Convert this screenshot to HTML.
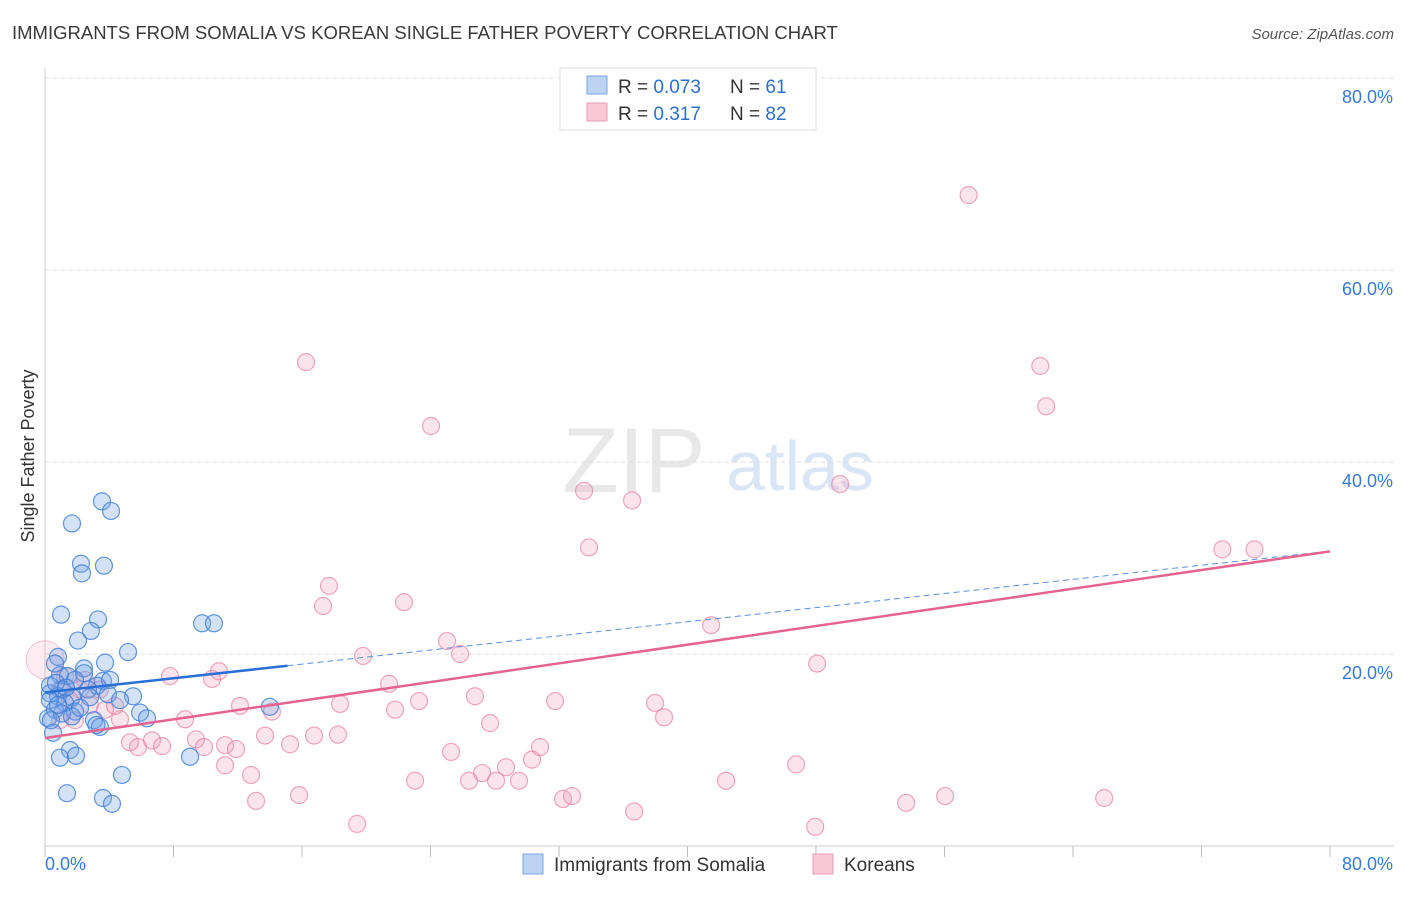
<!DOCTYPE html>
<html><head><meta charset="utf-8"><style>
body{margin:0;background:#fff;font-family:"Liberation Sans",sans-serif;}
svg text{font-family:"Liberation Sans",sans-serif;}
</style></head><body>
<svg id="c" width="1406" height="892">
<text x="12" y="39" font-size="18.5" fill="#3a3a3a">IMMIGRANTS FROM SOMALIA VS KOREAN SINGLE FATHER POVERTY CORRELATION CHART</text>
<text x="1394" y="39" font-size="15" fill="#555" font-style="italic" text-anchor="end">Source: ZipAtlas.com</text>
<text x="634" y="492" font-size="92" fill="#e8e8e8" font-family="Liberation Serif" text-anchor="middle">ZIP</text>
<text x="800" y="490" font-size="70" fill="#dae6f6" text-anchor="middle">atlas</text>
<text transform="translate(34,456) rotate(-90)" font-size="18" fill="#333" text-anchor="middle">Single Father Poverty</text>
<g id="grid"></g><g id="pts"></g><g id="trend"></g>
<g>
<rect x="560" y="68" width="256" height="62" fill="#fff" stroke="#ddd"/>
<rect x="587" y="76" width="20" height="18" fill="#bcd3f3" stroke="#7aa5e0"/>
<rect x="587" y="103" width="20" height="18" fill="#f8c8d6" stroke="#eb9ab3"/>
<text x="618" y="93" font-size="19" fill="#333">R = <tspan fill="#2f6fd0">0.073</tspan></text>
<text x="730" y="93" font-size="19" fill="#333">N = <tspan fill="#2f6fd0">61</tspan></text>
<text x="618" y="120" font-size="19" fill="#333">R = <tspan fill="#2f6fd0"> 0.317</tspan></text>
<text x="730" y="120" font-size="19" fill="#333">N = <tspan fill="#2f6fd0">82</tspan></text>
</g>
<g>
<rect x="523" y="854" width="20" height="20" fill="#bcd3f3" stroke="#7aa5e0"/>
<text x="554" y="871" font-size="19" fill="#333">Immigrants from Somalia</text>
<rect x="813" y="854" width="20" height="20" fill="#f8c8d6" stroke="#eb9ab3"/>
<text x="844" y="871" font-size="19" fill="#333">Koreans</text>
</g>
</svg>
<script>
const yTicks=[20,40,60,80];
const yTickLabels=["20.0%","40.0%","60.0%","80.0%"];
const xTicks=[0,8,16,24,32,40,48,56,64,72,80];
const somaliaX=[3.55,4.11,1.68,2.24,2.30,3.67,1.0,3.3,2.86,2.05,9.78,10.52,5.17,0.81,3.74,2.43,0.93,1.43,2.43,3.61,4.05,3.24,2.68,1.06,0.31,0.81,1.68,3.92,5.48,0.31,1.25,0.62,1.87,0.19,1.06,5.92,6.35,1.68,3.05,3.42,0.5,14.0,1.56,0.93,1.93,9.03,4.79,1.37,3.61,4.17,0.31,0.68,0.37,1.87,1.31,2.8,0.62,0.81,2.18,3.2,4.67];
const somaliaY=[35.9,34.9,33.6,29.4,28.4,29.2,24.1,23.6,22.4,21.4,23.2,23.2,20.2,19.7,19.1,18.5,17.8,17.7,18.0,17.2,17.3,16.7,16.3,16.3,15.9,15.6,15.5,15.8,15.6,15.2,14.9,14.2,14.0,13.3,13.8,13.9,13.3,13.5,13.1,12.4,11.8,14.5,10.0,9.2,9.4,9.3,7.4,5.5,5.0,4.4,16.7,17.0,13.1,17.3,16.5,15.5,19.0,14.7,14.4,12.6,15.2];
const koreanX=[57.5,16.25,61.96,62.33,24.03,49.5,33.56,36.55,33.87,73.3,75.3,17.68,17.31,22.35,41.47,25.03,25.84,19.8,10.83,7.78,10.4,48.07,21.42,26.77,31.76,37.98,18.37,23.29,12.14,21.79,38.54,8.72,14.13,27.71,4.67,11.21,13.7,15.26,16.75,18.24,5.29,6.66,7.29,9.4,9.9,5.79,11.89,25.28,30.82,11.21,12.83,27.21,28.7,30.32,23.04,26.4,28.08,29.51,42.4,46.76,32.25,32.81,15.82,13.14,36.68,53.61,56.04,65.94,19.43,47.95,0.93,1.56,2.8,3.74,2.18,3.42,0.93,1.87,4.36,1.25,2.49];
const koreanY=[67.8,50.4,50.0,45.8,43.75,37.7,37.0,36.0,31.1,30.9,30.9,27.1,25.0,25.4,23.0,21.35,20.0,19.8,18.2,17.7,17.4,19.0,16.9,15.6,15.1,14.9,14.8,15.1,14.6,14.2,13.4,13.2,14.0,12.8,13.2,10.5,11.5,10.6,11.5,11.6,10.8,11.0,10.4,11.1,10.3,10.3,10.1,9.8,10.3,8.4,7.4,7.6,8.2,9.0,6.8,6.8,6.8,6.8,6.8,8.5,4.9,5.2,5.3,4.7,3.6,4.5,5.2,5.0,2.3,2.0,16.3,15.2,14.7,14.2,16.3,16.3,13.1,13.1,14.6,17.7,17.3];
const koreanBig=[0,19.4];
const somaliaTrend=[16.0,0.184];
const koreanTrend=[11.25,0.243];
const somaliaMaxX=15.1;

const NS="http://www.w3.org/2000/svg";
const sx=v=>45+v*(1285/80);
const sy=v=>846-v*9.6;
function mk(parent,tag,attrs){const e=document.createElementNS(NS,tag);for(const k in attrs)e.setAttribute(k,attrs[k]);document.getElementById(parent).appendChild(e);return e;}

let e=mk('grid','line',{x1:45,y1:846,x2:1394,y2:846,stroke:'#ccc'});


e=mk('grid','line',{x1:45,y1:68,x2:45,y2:846,stroke:'#ccc'});


yTicks.forEach((t,i)=>{
  let g=mk('grid','line',{x1:45,y1:sy(t),x2:1394,y2:sy(t),stroke:'#ddd','stroke-dasharray':'4,4'});
  
  
  let l=mk('grid','text',{x:1393,y:sy(t)+25,'font-size':18,fill:'#3a78d8','text-anchor':'end'});
  l.textContent=yTickLabels[i];
  
  
});
xTicks.forEach(t=>{
  let k=mk('grid','line',{x1:sx(t),y1:846,x2:sx(t),y2:857,stroke:'#bbb'});
  
  
});
e=mk('grid','text',{x:45,y:870,'font-size':18,fill:'#3a78d8'});e.textContent='0.0%';


e=mk('grid','text',{x:1393,y:870,'font-size':18,fill:'#3a78d8','text-anchor':'end'});e.textContent='80.0%';



e=mk('pts','circle',{cx:sx(koreanBig[0]),cy:sy(koreanBig[1]),r:19,fill:'rgba(240,150,180,0.18)',stroke:'rgba(232,130,165,0.45)'});


koreanX.forEach((x,i)=>{
  let c=mk('pts','circle',{cx:sx(x),cy:sy(koreanY[i]),r:8.5,fill:'rgba(240,150,180,0.26)',stroke:'rgba(232,130,165,0.7)','stroke-width':1.2});
  
  
});
somaliaX.forEach((x,i)=>{
  let c=mk('pts','circle',{cx:sx(x),cy:sy(somaliaY[i]),r:8.5,fill:'rgba(110,160,230,0.3)',stroke:'rgba(60,125,215,0.8)','stroke-width':1.2});
  
  
});
const f=(t,x)=>t[0]+t[1]*x;
e=mk('trend','line',{x1:sx(somaliaMaxX),y1:sy(f(somaliaTrend,somaliaMaxX)),x2:sx(80),y2:sy(f(somaliaTrend,80)),stroke:'#5b8fdc','stroke-width':1,'stroke-dasharray':'6,4'});


e=mk('trend','line',{x1:sx(0),y1:sy(f(koreanTrend,0)),x2:sx(80),y2:sy(f(koreanTrend,80)),stroke:'#e4638f','stroke-width':2.5});


e=mk('trend','line',{x1:sx(0),y1:sy(f(somaliaTrend,0)),x2:sx(somaliaMaxX),y2:sy(f(somaliaTrend,somaliaMaxX)),stroke:'#2a6fd6','stroke-width':2.5});


</script>
</body></html>
